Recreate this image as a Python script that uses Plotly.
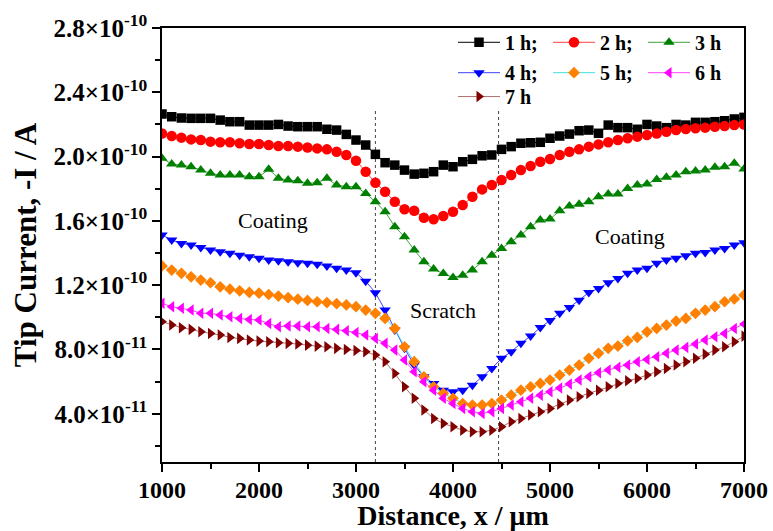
import plotly.graph_objects as go

# ---------------- data (current in units of 1e-11 A) ----------------
SCALE = 1e-11
distance_um = list(range(1000, 7001, 100))

current_1h = [22.65, 22.48, 22.40, 22.38, 22.38, 22.38, 22.27, 22.17, 22.17, 21.96,
              21.96, 21.96, 22.00, 21.90, 21.86, 21.86, 21.86, 21.70, 21.65, 21.38,
              21.03, 20.72, 20.14, 19.62, 19.47, 19.16, 18.91, 18.96, 19.06, 19.47,
              19.37, 19.68, 19.83, 20.05, 20.10, 20.45, 20.62, 20.83, 20.86, 20.89,
              21.14, 21.28, 21.40, 21.61, 21.65, 21.45, 21.96, 21.80, 21.80, 21.70,
              22.00, 21.90, 21.80, 22.00, 21.96, 22.13, 22.13, 22.17, 22.23, 22.34,
              22.44]
current_2h = [21.44, 21.28, 21.18, 21.07, 21.03, 20.93, 20.89, 20.89, 20.83, 20.78,
              20.78, 20.72, 20.66, 20.66, 20.62, 20.57, 20.51, 20.45, 20.30, 20.10,
              19.74, 19.06, 18.37, 17.81, 17.19, 16.72, 16.63, 16.20, 16.10, 16.30,
              16.57, 16.99, 17.50, 17.96, 18.23, 18.54, 18.85, 19.16, 19.41, 19.68,
              19.85, 20.10, 20.30, 20.45, 20.62, 20.76, 20.89, 21.03, 21.14, 21.24,
              21.34, 21.44, 21.55, 21.65, 21.71, 21.76, 21.80, 21.86, 21.90, 21.96,
              22.00]
current_3h = [19.89, 19.54, 19.47, 19.37, 19.16, 18.96, 18.85, 18.85, 18.85, 18.75,
              18.75, 19.21, 18.65, 18.54, 18.50, 18.34, 18.37, 18.65, 18.23, 18.13,
              18.13, 17.71, 17.19, 16.57, 15.64, 15.01, 14.19, 13.46, 13.00, 12.72,
              12.48, 12.62, 12.94, 13.46, 13.87, 14.29, 14.70, 15.12, 15.64, 16.05,
              16.11, 16.63, 16.92, 17.03, 17.19, 17.50, 17.67, 17.67, 18.02, 18.23,
              18.29, 18.58, 18.71, 18.85, 19.06, 19.10, 19.16, 19.33, 19.37, 19.58,
              19.23]
current_4h = [15.12, 14.81, 14.60, 14.50, 14.35, 14.19, 14.08, 13.98, 13.87, 13.77,
              13.67, 13.56, 13.52, 13.46, 13.40, 13.36, 13.31, 13.19, 13.05, 12.94,
              12.77, 12.25, 11.53, 10.45, 9.21, 8.07, 7.03, 6.30, 5.89, 5.47,
              5.37, 5.47, 5.78, 6.30, 6.82, 7.45, 7.86, 8.38, 8.84, 9.36,
              9.81, 10.25, 10.61, 11.07, 11.54, 11.80, 12.15, 12.42, 12.74, 12.94,
              13.05, 13.36, 13.56, 13.67, 13.83, 13.98, 14.04, 14.19, 14.29, 14.50,
              14.64]
current_5h = [13.20, 12.94, 12.74, 12.52, 12.32, 12.15, 11.90, 11.75, 11.65, 11.55,
              11.50, 11.42, 11.32, 11.22, 11.13, 11.05, 10.97, 10.92, 10.85, 10.77,
              10.66, 10.45, 10.25, 9.93, 9.31, 8.17, 7.24, 6.30, 5.68, 5.27,
              4.96, 4.64, 4.54, 4.54, 4.64, 4.85, 5.16, 5.47, 5.68, 5.89,
              6.10, 6.41, 6.72, 7.03, 7.45, 7.76, 8.07, 8.21, 8.54, 8.75,
              9.10, 9.31, 9.52, 9.77, 9.93, 10.25, 10.45, 10.66, 10.97, 11.14,
              11.39]
current_6h = [10.87, 10.66, 10.56, 10.45, 10.25, 10.25, 10.14, 10.03, 9.93, 9.87,
              9.83, 9.62, 9.41, 9.46, 9.46, 9.41, 9.41, 9.31, 9.25, 9.16,
              9.05, 8.90, 8.69, 8.38, 7.96, 7.34, 6.61, 5.99, 5.47, 4.96,
              4.64, 4.33, 4.13, 4.02, 4.13, 4.33, 4.54, 4.75, 4.96, 5.16,
              5.37, 5.60, 5.85, 6.10, 6.30, 6.55, 6.72, 6.89, 7.03, 7.24,
              7.38, 7.55, 7.76, 7.96, 8.13, 8.34, 8.59, 8.79, 9.00, 9.31,
              9.58]
current_7h = [9.73, 9.52, 9.35, 9.25, 9.10, 9.00, 8.90, 8.75, 8.69, 8.59,
              8.52, 8.48, 8.42, 8.38, 8.34, 8.27, 8.21, 8.17, 8.07, 8.00,
              7.94, 7.86, 7.65, 7.24, 6.51, 5.68, 4.96, 4.23, 3.71, 3.40,
              3.19, 2.98, 2.88, 2.88, 2.98, 3.19, 3.50, 3.71, 3.92, 4.12,
              4.33, 4.60, 4.85, 5.06, 5.27, 5.47, 5.68, 5.89, 6.05, 6.20,
              6.41, 6.61, 6.82, 7.03, 7.24, 7.45, 7.71, 7.96, 8.17, 8.48,
              8.83]

series_names = ["1 h;", "2 h;", "3 h", "4 h;", "5 h;", "6 h", "7 h"]
series_values = [current_1h, current_2h, current_3h, current_4h,
                 current_5h, current_6h, current_7h]

y_tick_vals = [4e-11, 8e-11, 1.2e-10, 1.6e-10, 2.0e-10, 2.4e-10, 2.8e-10]
y_tick_text = ["4.0×10<sup>-11</sup>", "8.0×10<sup>-11</sup>", "1.2×10<sup>-10</sup>",
               "1.6×10<sup>-10</sup>", "2.0×10<sup>-10</sup>", "2.4×10<sup>-10</sup>",
               "2.8×10<sup>-10</sup>"]
y_minor_vals = [2e-11, 6e-11, 1.0e-10, 1.4e-10, 1.8e-10, 2.2e-10, 2.6e-10]
x_tick_vals = [1000, 2000, 3000, 4000, 5000, 6000, 7000]

scratch_edges_um = [3200, 4470]
labels = [("Coating", 2140, 1.60e-10), ("Scratch", 3900, 1.045e-10), ("Coating", 5820, 1.50e-10)]

# ---------------- styles ----------------
SERIF = "Liberation Serif, Times New Roman, serif"
marker_symbols = ["square", "circle", "triangle-up", "triangle-down", "diamond",
                  "triangle-left", "triangle-right"]
marker_colors = ["#000000", "#ff0000", "#008000", "#0000ff", "#ff8000", "#ff00ff", "#800000"]
line_colors = ["#000000", "#ff4040", "#40a040", "#4040ff", "#40e0e0", "#ff40ff", "#b07070"]
marker_sizes = [9.5, 10.5, 10, 10, 9, 10, 10]
legend_ids = ["legend", "legend", "legend", "legend2", "legend2", "legend2", "legend3"]

Y_MIN, Y_MAX = 1.0e-11, 2.8e-10

fig = go.Figure()
for i, (name, vals) in enumerate(zip(series_names, series_values)):
    fig.add_trace(go.Scatter(
        x=distance_um, y=[v * SCALE for v in vals], name=name,
        mode="lines+markers",
        line=dict(color=line_colors[i], width=1),
        marker=dict(symbol=marker_symbols[i], color=marker_colors[i],
                    size=marker_sizes[i], line=dict(width=0)),
        legend=legend_ids[i],
    ))

for xe in scratch_edges_um:
    fig.add_shape(type="line", x0=xe, x1=xe, y0=Y_MIN, y1=2.3e-10,
                  xref="x", yref="y", line=dict(color="#444", width=1, dash="dot"),
                  layer="below")

for txt, lx, ly in labels:
    fig.add_annotation(x=lx, y=ly, text=txt, showarrow=False,
                       font=dict(family=SERIF, size=22, color="black"))

legend_common = dict(orientation="h", xanchor="left", yanchor="top",
                     font=dict(family=SERIF, size=20, color="black", weight="bold"),
                     itemwidth=42, entrywidth=38, bgcolor="rgba(0,0,0,0)",
                     tracegroupgap=0)

fig.update_layout(
    width=773, height=531,
    margin=dict(l=162, r=29, t=28, b=69, autoexpand=False),
    paper_bgcolor="white", plot_bgcolor="white",
    font=dict(family=SERIF, color="black"),
    legend=dict(x=0.50, y=1.012, **legend_common),
    legend2=dict(x=0.50, y=0.942, **legend_common),
    legend3=dict(x=0.50, y=0.887, **legend_common),
    xaxis=dict(
        range=[1000, 7000], tickvals=x_tick_vals, automargin=False,
        ticks="outside", ticklen=8, tickwidth=1.5, tickcolor="black",
        showline=True, linecolor="black", linewidth=1.5, mirror=True,
        showgrid=False, zeroline=False, ticklabelstandoff=-3,
        tickfont=dict(family=SERIF, size=24, color="black", weight="bold"),
        minor=dict(dtick=500, tick0=1000, ticks="outside", ticklen=5, tickwidth=1.5,
                   tickcolor="black", showgrid=False),
        title=dict(text="<b>Distance, x / μm</b>", standoff=9,
                   font=dict(family=SERIF, size=28, color="black")),
    ),
    yaxis=dict(
        range=[Y_MIN, Y_MAX], tickvals=y_tick_vals, ticktext=y_tick_text,
        automargin=False,
        ticks="outside", ticklen=8, tickwidth=1.5, tickcolor="black",
        showline=True, linecolor="black", linewidth=1.5, mirror=True,
        showgrid=False, zeroline=False,
        tickfont=dict(family=SERIF, size=25, color="black", weight="bold"),
        minor=dict(tickvals=y_minor_vals, ticks="outside", ticklen=5, tickwidth=1.5,
                   tickcolor="black", showgrid=False),
        title=dict(text="<b>Tip Current, -I / A</b>", standoff=8,
                   font=dict(family=SERIF, size=31, color="black")),
    ),
)

fig.write_html("out.html", config={"displayModeBar": False},
               post_script="document.body.style.margin='0';")
